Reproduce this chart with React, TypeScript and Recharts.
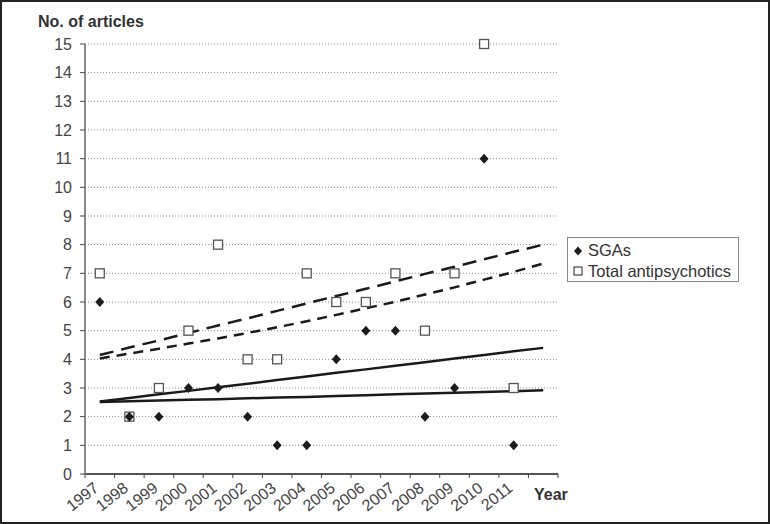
import {
  ComposedChart,
  Scatter,
  Line,
  XAxis,
  YAxis,
  CartesianGrid,
} from "recharts";

// category years (last slot is the trendline forecast period, no label)
const years = [1997, 1998, 1999, 2000, 2001, 2002, 2003, 2004, 2005, 2006, 2007, 2008, 2009, 2010, 2011, 2012];
const yearLabels = ["1997", "1998", "1999", "2000", "2001", "2002", "2003", "2004", "2005", "2006", "2007", "2008", "2009", "2010", "2011"];

const sgas = [6, 2, 2, 3, 3, 2, 1, 1, 4, 5, 5, 2, 3, 11, 1];
const totals = [7, 2, 3, 5, 8, 4, 4, 7, 6, 6, 7, 5, 7, 15, 3];

// trendlines, one value per year slot
const sgaLinear = [2.53, 2.65, 2.78, 2.9, 3.03, 3.15, 3.28, 3.4, 3.53, 3.65, 3.78, 3.9, 4.03, 4.15, 4.28, 4.4];
const sgaExp = [2.51, 2.54, 2.56, 2.59, 2.61, 2.64, 2.67, 2.69, 2.72, 2.75, 2.78, 2.81, 2.83, 2.86, 2.89, 2.92];
const totalLinear = [4.15, 4.41, 4.66, 4.92, 5.18, 5.43, 5.69, 5.95, 6.21, 6.46, 6.72, 6.98, 7.23, 7.49, 7.75, 8.0];
const totalExp = [4.03, 4.2, 4.37, 4.55, 4.73, 4.92, 5.12, 5.33, 5.55, 5.78, 6.01, 6.26, 6.51, 6.78, 7.05, 7.34];

const yTicks = [0, 1, 2, 3, 4, 5, 6, 7, 8, 9, 10, 11, 12, 13, 14, 15];
const xBounds = [1996.5, 1997.5, 1998.5, 1999.5, 2000.5, 2001.5, 2002.5, 2003.5, 2004.5, 2005.5, 2006.5, 2007.5, 2008.5, 2009.5, 2010.5, 2011.5, 2012.5];

const seriesNames = ["SGAs", "Total antipsychotics"];

const trendData = years.map((year, i) => ({
  year,
  sgaLin: sgaLinear[i],
  sgaExp: sgaExp[i],
  totLin: totalLinear[i],
  totExp: totalExp[i],
}));
const sgaData = sgas.map((v, i) => ({ year: years[i], value: v }));
const totalData = totals.map((v, i) => ({ year: years[i], value: v }));

const FONT = '"Liberation Sans", Arial, sans-serif';
const HALF_BAND = 14.8;

const Diamond = (props: any) => {
  const { cx, cy } = props;
  if (cx == null || cy == null) return null;
  return (
    <polygon
      points={`${cx},${cy - 5} ${cx + 4.5},${cy} ${cx},${cy + 5} ${cx - 4.5},${cy}`}
      fill="#1c1c1c"
    />
  );
};

const Square = (props: any) => {
  const { cx, cy } = props;
  if (cx == null || cy == null) return null;
  return <rect x={cx - 4.5} y={cy - 4.5} width={9} height={9} fill="#fff" stroke="#555" strokeWidth={1.3} />;
};

const YearTick = (props: any) => {
  const { x, y, payload } = props;
  const idx = Math.round(payload.value - 1996.5);
  const label = yearLabels[idx];
  if (!label) return null;
  const lx = x + HALF_BAND;
  const ly = y + 10;
  return (
    <text
      x={lx}
      y={ly}
      textAnchor="end"
      fill="#444"
      fontSize={16}
      fontFamily={FONT}
      transform={`rotate(-38 ${lx} ${ly})`}
    >
      {label}
    </text>
  );
};

export default function App() {
  return (
    <div style={{ position: "absolute", left: 0, top: 0, width: 770, height: 524, background: "#fff" }}>
      <ComposedChart
        width={770}
        height={524}
        data={trendData}
        margin={{ top: 44, right: 212, bottom: 0, left: 0 }}
      >
        <CartesianGrid vertical={false} stroke="#8a8a8a" strokeDasharray="1 2" />
        <XAxis
          dataKey="year"
          type="number"
          domain={[1996.5, 2012.5]}
          ticks={xBounds}
          interval={0}
          height={50}
          axisLine={{ stroke: "#222", strokeWidth: 1.5 }}
          tickLine={{ stroke: "#444" }}
          tickSize={4}
          tick={<YearTick />}
        />
        <YAxis
          domain={[0, 15]}
          ticks={yTicks}
          interval={0}
          width={85}
          axisLine={{ stroke: "#8a8a8a", strokeWidth: 2 }}
          tickLine={{ stroke: "#444" }}
          tickSize={5}
          tickMargin={8}
          tick={{ fill: "#444", fontSize: 16, fontFamily: FONT }}
        />
        <Scatter data={totalData} dataKey="value" shape={<Square />} isAnimationActive={false} />
        <Scatter data={sgaData} dataKey="value" shape={<Diamond />} isAnimationActive={false} />
        <Line dataKey="sgaLin" type="linear" stroke="#1a1a1a" strokeWidth={2.5} dot={false} isAnimationActive={false} />
        <Line dataKey="sgaExp" type="linear" stroke="#1a1a1a" strokeWidth={2.5} dot={false} isAnimationActive={false} />
        <Line
          dataKey="totLin"
          type="linear"
          stroke="#1a1a1a"
          strokeWidth={2.5}
          strokeDasharray="14 8"
          dot={false}
          isAnimationActive={false}
        />
        <Line
          dataKey="totExp"
          type="linear"
          stroke="#1a1a1a"
          strokeWidth={2.5}
          strokeDasharray="10 7"
          dot={false}
          isAnimationActive={false}
        />
      </ComposedChart>

      <div
        style={{
          position: "absolute",
          left: 38,
          top: 13,
          fontFamily: FONT,
          fontWeight: "bold",
          fontSize: 16,
          color: "#333",
        }}
      >
        No. of articles
      </div>
      <div
        style={{
          position: "absolute",
          left: 534,
          top: 486,
          fontFamily: FONT,
          fontWeight: "bold",
          fontSize: 16,
          color: "#333",
        }}
      >
        Year
      </div>

      <div
        style={{
          position: "absolute",
          left: 567,
          top: 237,
          width: 172,
          height: 45,
          boxSizing: "border-box",
          border: "1.5px solid #888",
          fontFamily: FONT,
          fontSize: 16.5,
          color: "#333",
          paddingLeft: 5,
          paddingTop: 2,
        }}
      >
        <div style={{ display: "flex", alignItems: "center", height: 21 }}>
          <svg width={10} height={10} style={{ marginRight: 5 }}>
            <polygon points="5,0.5 9,5 5,9.5 1,5" fill="#1c1c1c" />
          </svg>
          {seriesNames[0]}
        </div>
        <div style={{ display: "flex", alignItems: "center", height: 20 }}>
          <svg width={10} height={10} style={{ marginRight: 5 }}>
            <rect x={1} y={1} width={8} height={8} fill="#fff" stroke="#444" strokeWidth={1.2} />
          </svg>
          {seriesNames[1]}
        </div>
      </div>

      <div
        style={{
          position: "absolute",
          left: 0,
          top: 0,
          width: 770,
          height: 524,
          boxSizing: "border-box",
          border: "2px solid #222",
          pointerEvents: "none",
        }}
      />
    </div>
  );
}
